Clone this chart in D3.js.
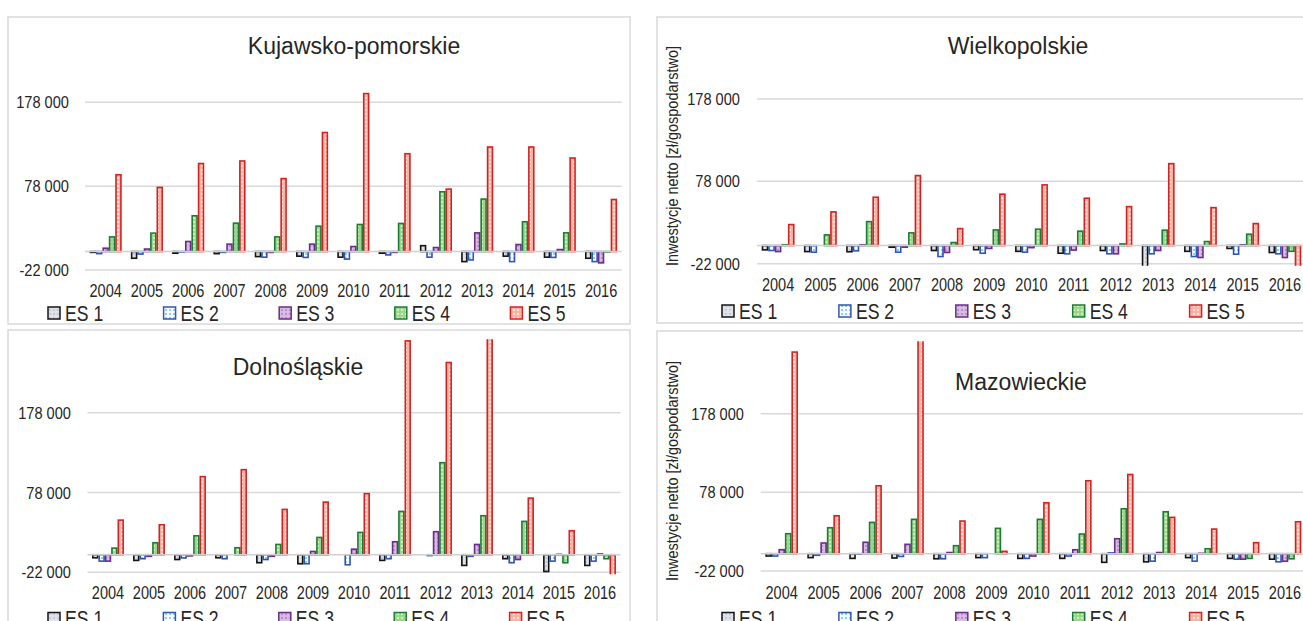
<!DOCTYPE html>
<html>
<head>
<meta charset="utf-8">
<script src="https://cdn.jsdelivr.net/npm/d3@7/dist/d3.min.js"></script>
<style>
  body { margin: 0; background: #fff; }
  svg { display: block; }
  text { font-family: "Liberation Sans", Arial, sans-serif; fill: #262626; }
</style>
</head>
<body>
<svg id="chart"></svg>
<script>
/* chart data, values in zl per farm */
const years = [2004, 2005, 2006, 2007, 2008, 2009, 2010, 2011, 2012, 2013, 2014, 2015, 2016];
const seriesNames = ["ES 1", "ES 2", "ES 3", "ES 4", "ES 5"];
const yTicks = [-22000, 78000, 178000];
const axisTitle = "Inwestycje netto [zł/gospodarstwo]";

const kujawskoPomorskie = [
  [-1000, -8000, -2000, -2500, -6000, -5500, -6700, -2000, 7000, -12000, -5500, -6700, -8000],
  [-2500, -3000, -500, -1000, -6700, -7000, -9000, -4000, -6700, -10000, -12000, -7000, -12000],
  [4000, 3000, 12000, 8800, -1000, 8800, 6000, -1000, 4800, 22300, 8400, 2400, -13500],
  [17500, 22000, 42700, 33900, 17500, 30300, 32300, 33500, 71300, 62600, 35500, 22300, -500],
  [91600, 76500, 105000, 108000, 87000, 142000, 188400, 116700, 74500, 124700, 124700, 111600, 62100]
];
const wielkopolskie = [
  [-5200, -7300, -7500, -2000, -6000, -5000, -7000, -9300, -6000, -27000, -7000, -3500, -8400],
  [-6000, -8000, -6400, -8000, -13300, -9300, -8000, -10000, -10000, -10000, -13300, -10500, -10000],
  [-7300, 0, 1000, -2000, -8400, -3500, -2500, -5500, -10000, -6000, -14500, 1000, -14500],
  [1000, 13000, 29100, 15400, 3700, 19000, 19900, 17500, 2000, 18700, 4900, 13800, -7000],
  [25500, 40900, 58700, 85000, 20600, 62400, 73700, 57500, 47300, 99500, 46100, 26700, -26000]
];
const dolnoslaskie = [
  [-3800, -7100, -6000, -3800, -10000, -11300, 0, -7100, 0, -13400, -5000, -21000, -13400],
  [-8000, -5000, -4000, -5000, -6000, -11300, -12600, -5000, -1000, -2000, -10000, -8000, -8000],
  [-8000, -2000, -1500, 0, -2000, 4100, 7000, 16300, 28900, 12900, -6000, 500, 1000],
  [8300, 15000, 23800, 8800, 12900, 21700, 28000, 54300, 115400, 48900, 41800, -10000, -5000],
  [43400, 37600, 97900, 106600, 56800, 66000, 76500, 268000, 240900, 290000, 71000, 30100, -30000]
];
const mazowieckie = [
  [-3000, -5000, -6000, -5500, -6500, -5000, -6000, -6000, -11000, -10400, -5000, -6000, -7000],
  [-3000, -2000, -500, -3500, -6500, -5000, -6000, -3000, 1000, -9500, -9500, -7000, -10400],
  [5100, 13600, 14500, 11900, 1500, 0, -3000, 5000, 19000, 1500, 500, -7000, -9600],
  [25400, 33000, 39800, 43700, 10200, 32200, 43700, 25000, 57100, 53300, 6300, -6000, -6500],
  [256300, 48200, 86300, 300000, 41500, 3000, 64700, 92700, 100700, 46200, 31300, 14000, 40600]
];

/* styles */
const seriesColors = [
  { stroke: "#141414", base: "#dfe2e8", alt: "#c3cad8" },
  { stroke: "#2f56b4", base: "#ffffff", alt: "#7fd3f4" },
  { stroke: "#6c2d88", base: "#d6bde0", alt: "#b892c8" },
  { stroke: "#1c7b36", base: "#9ad596", alt: "#d6efa0" },
  { stroke: "#d42222", base: "#f6b4a4", alt: "#fde3dc" }
];

const width = 1303, height = 621;
const svg = d3.select("#chart").attr("width", width).attr("height", height);

const locale = d3.formatLocale({ decimal: ",", thousands: " ", grouping: [3], currency: ["", " zł"], minus: "-" });
const fmt = locale.format(",d");

// pattern fills: soft 2px checker
const defs = svg.append("defs");
seriesColors.forEach((c, i) => {
  let p = defs.append("pattern")
    .attr("id", "pat" + i)
    .attr("patternUnits", "userSpaceOnUse")
    .attr("width", 4).attr("height", 4);
  p.append("rect").attr("width", 4).attr("height", 4).attr("fill", c.base);
  p.append("rect").attr("x", 1).attr("y", 1).attr("width", 2).attr("height", 2).attr("fill", c.alt);
});

// text drawn a little narrower, like the source
function addText(g, x, y, str, size, sx, anchor) {
  return g.append("text")
    .attr("transform", `translate(${x},${y}) scale(${sx},1)`)
    .attr("text-anchor", anchor || "middle")
    .style("font-size", size + "px")
    .text(str);
}

const panels = [
  { title: "Kujawsko-pomorskie", data: kujawskoPomorskie, box: [8, 17, 630, 324],
    plot: [85, 621.7, 270, 60.4], domain: [-22000, 228000], titleX: 354, titleY: 54,
    tickX: 69, yearY: 297, legendX: 48, legendY: 313, legendStep: 115.6, axisTitleY: null },
  { title: "Wielkopolskie", data: wielkopolskie, box: [657, 17, 1320, 323],
    plot: [757, 1306, 263.7, 57.8], domain: [-22000, 228000], titleX: 1018, titleY: 54,
    tickX: 740, yearY: 291, legendX: 722, legendY: 311, legendStep: 116.9, axisTitleY: 156 },
  { title: "Dolnośląskie", data: dolnoslaskie, box: [8, 330, 630, 640],
    plot: [87.5, 620.5, 572.3, 339.3], domain: [-22000, 270000], titleX: 298, titleY: 375,
    tickX: 71, yearY: 599, legendX: 48, legendY: 618.5, legendStep: 115.4, axisTitleY: null },
  { title: "Mazowieckie", data: mazowieckie, box: [657, 331, 1320, 640],
    plot: [760.7, 1306, 571, 341.3], domain: [-22000, 270000], titleX: 1021, titleY: 390,
    tickX: 744, yearY: 599, legendX: 722, legendY: 618.5, legendStep: 116.9, axisTitleY: 471 }
];

panels.forEach((p, pi) => {
  const g = svg.append("g");
  const [bx0, by0, bx1, by1] = p.box;
  g.append("rect")
    .attr("x", bx0).attr("y", by0)
    .attr("width", bx1 - bx0).attr("height", by1 - by0)
    .attr("fill", "#fff").attr("stroke", "#d9d9d9").attr("stroke-width", 1.5);

  const [px0, px1, pyBottom, pyTop] = p.plot;
  const y = d3.scaleLinear().domain(p.domain).range([pyBottom, pyTop]);
  const x0 = d3.scaleBand().domain(years).range([px0, px1]).padding(0);
  const x1 = d3.scaleBand().domain(d3.range(seriesNames.length))
    .range([0, x0.bandwidth()]).paddingInner(0).paddingOuter(0.72);

  // gridlines
  g.append("g").selectAll("line").data(yTicks).join("line")
    .attr("x1", px0).attr("x2", px1)
    .attr("y1", d => y(d)).attr("y2", d => y(d))
    .attr("stroke", "#d9d9d9").attr("stroke-width", 1.5);

  // tick labels
  yTicks.forEach(t => {
    addText(g, p.tickX, y(t) + 6, fmt(t), 17, 0.86, "end");
  });

  // bars, clipped to plot area
  const clipId = "clip" + pi;
  defs.append("clipPath").attr("id", clipId).append("rect")
    .attr("x", px0).attr("y", pyTop)
    .attr("width", px1 - px0).attr("height", pyBottom - pyTop + 2);

  const rows = [];
  p.data.forEach((vals, si) => vals.forEach((v, yi) => rows.push({ s: si, year: years[yi], v: v })));

  g.append("g").attr("clip-path", `url(#${clipId})`)
    .selectAll("rect").data(rows.filter(d => d.v !== 0)).join("rect")
    .attr("x", d => x0(d.year) + x1(d.s) + 0.75)
    .attr("width", x1.bandwidth() - 1.5)
    .attr("y", d => Math.min(y(d.v), y(0)))
    .attr("height", d => Math.abs(y(d.v) - y(0)))
    .attr("fill", d => `url(#pat${d.s})`)
    .attr("stroke", d => seriesColors[d.s].stroke)
    .attr("stroke-width", 1.6);

  // category axis line at zero
  g.append("line")
    .attr("x1", px0).attr("x2", px1)
    .attr("y1", y(0)).attr("y2", y(0))
    .attr("stroke", "#d0d0d0").attr("stroke-width", 1.5);

  // year labels
  years.forEach(yr => {
    addText(g, x0(yr) + x0.bandwidth() / 2, p.yearY, yr, 17.5, 0.83);
  });

  // title
  addText(g, p.titleX, p.titleY, p.title, 24.5, 0.94);

  // y axis title
  if (p.axisTitleY) {
    g.append("text")
      .attr("transform", `translate(678,${p.axisTitleY}) rotate(-90) scale(0.85,1)`)
      .attr("text-anchor", "middle")
      .style("font-size", "17px")
      .text(axisTitle);
  }

  // legend
  seriesNames.forEach((name, si) => {
    const lx = p.legendX + si * p.legendStep;
    g.append("rect")
      .attr("x", lx).attr("y", p.legendY - 6)
      .attr("width", 12).attr("height", 12)
      .attr("fill", `url(#pat${si})`)
      .attr("stroke", seriesColors[si].stroke).attr("stroke-width", 1.5);
    addText(g, lx + 17, p.legendY + 7.5, name, 21.5, 0.82, "start");
  });
});
</script>
</body>
</html>
